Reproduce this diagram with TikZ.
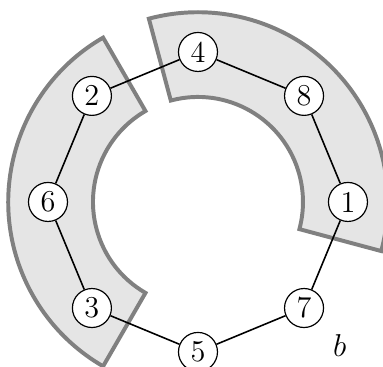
\documentclass[tikz,border=0pt]{standalone}
\usepackage{tikz}
\usetikzlibrary{positioning}
\definecolor{bandgrey}{gray}{0.9}
\definecolor{banddraw}{gray}{0.5}

\begin{document}
\begin{tikzpicture}[
    vert/.style={draw, circle, fill=white, minimum size=0.52cm, inner sep=0pt, line width=0.45pt,
                 font=\fontsize{11.5}{13}\selectfont},
    band/.style={draw=banddraw, fill=bandgrey, line width=1.5pt, line join=miter},
    edge/.style={line width=0.6pt}
]
    \clip (-2.64,-2.2) rectangle (2.467,2.693);
    % the two grey bands
    \draw[band] (120:2.53) arc (120:240:2.53) -- (240:1.4) arc (240:120:1.4) -- cycle;
    \draw[band] (-15:2.53) arc (-15:105:2.53) -- (105:1.4) arc (105:-15:1.4) -- cycle;
    % vertices of the cycle
    \node[vert] (v1) at (0:2) {1};
    \node[vert] (v8) at (45:2) {8};
    \node[vert] (v4) at (90:2) {4};
    \node[vert] (v2) at (135:2) {2};
    \node[vert] (v6) at (180:2) {6};
    \node[vert] (v3) at (225:2) {3};
    \node[vert] (v5) at (270:2) {5};
    \node[vert] (v7) at (315:2) {7};
    \draw[edge] (v4) -- (v8) -- (v1) -- (v7) -- (v5) -- (v3) -- (v6) -- (v2) -- (v4);
    \node[font=\fontsize{12.5}{14}\selectfont] (lab) at (1.89,-1.91) {$b$};
\end{tikzpicture}
\end{document}
